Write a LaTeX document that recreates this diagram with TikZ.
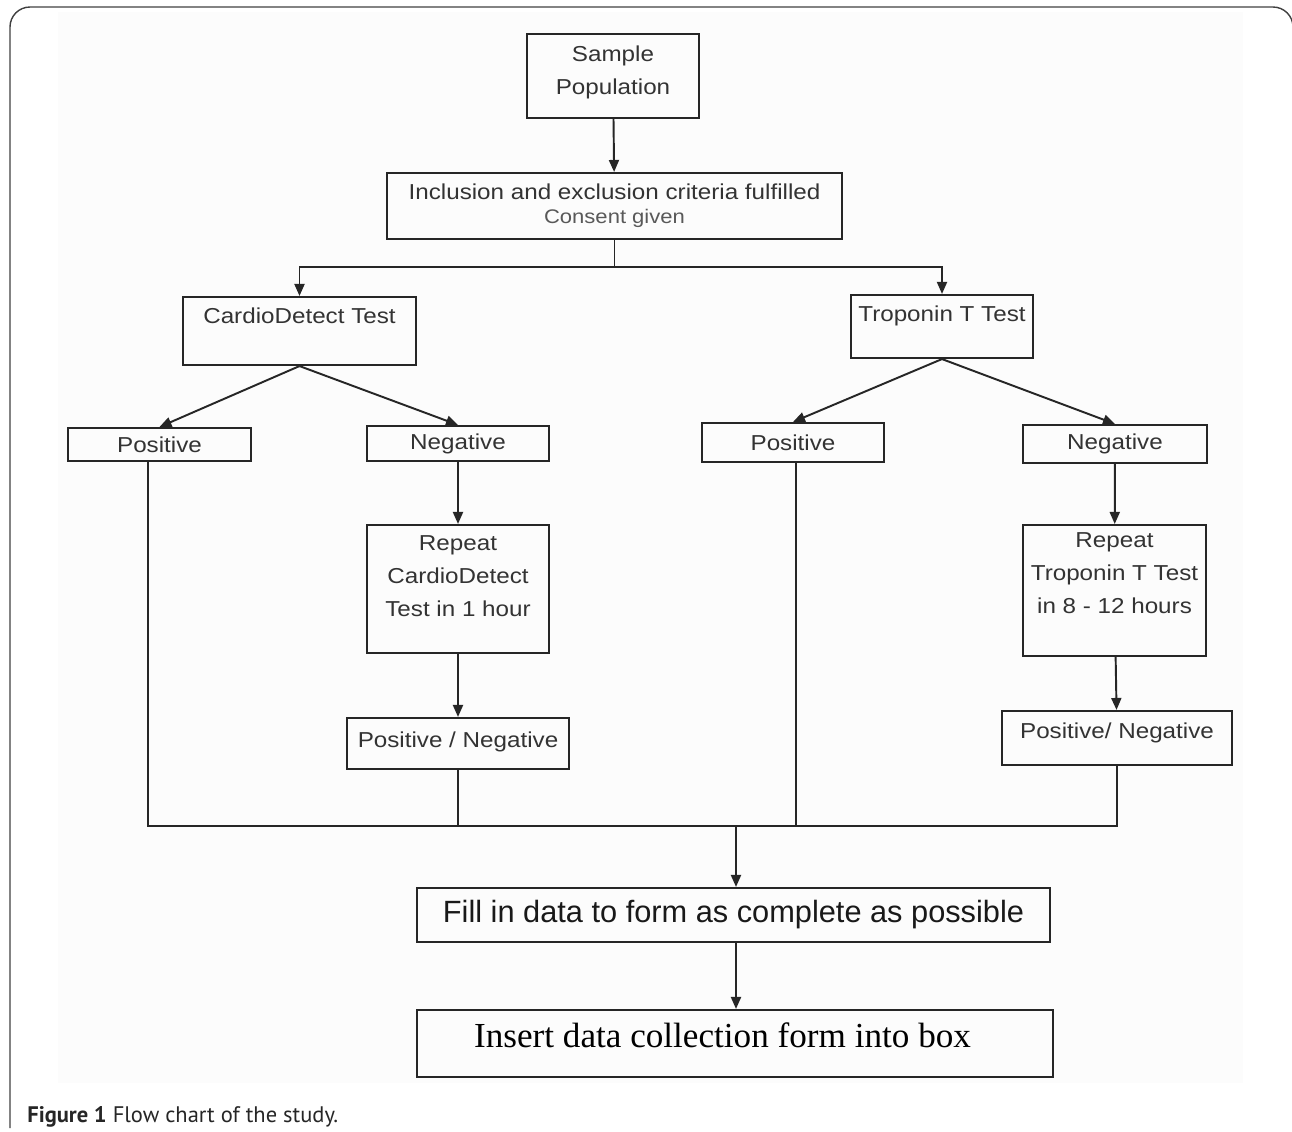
\documentclass[tikz,border=0pt]{standalone}
\usepackage{fontspec}
\setmainfont{Liberation Sans}
\newfontfamily\boxfont[FakeStretch=1.12]{Liberation Sans}
\newfontfamily\serifbox{Liberation Serif}
\newfontfamily\capfont{PT Sans}
\usetikzlibrary{arrows.meta}

\begin{document}
\begin{tikzpicture}[
  box/.style={draw=black!85,line width=1.2pt,inner sep=0pt,align=center,text=black!80,font=\boxfont\fontsize{12.3}{18.5}\selectfont},
  conn/.style={draw=black!85,line width=1.1pt},
  arr/.style={conn,-{Triangle[length=0.24cm,width=0.2cm]}}]
  \useasboundingbox (0,0) rectangle (25.84,-22.62);
  \fill[black!1] (1.16,-0.24) rectangle (24.86,-21.66);
  \draw[black!75,line width=0.8pt,rounded corners=0.4cm] (0.2,-22.56) -- (0.2,-0.14) -- (25.86,-0.14) -- (25.86,-1.2);
  \node[box,minimum width=3.44cm,text height=1.2cm,text depth=0.48cm] (sample) at (12.26,-1.52) {Sample\\Population};
  \node[box,minimum width=9.1cm,minimum height=1.32cm] (incl) at (12.29,-4.12) {Inclusion and exclusion criteria fulfilled\\[-4.8pt]{\color{black!65}\fontsize{11.2}{13}\selectfont Consent given}};
  \node[box,minimum width=4.66cm,text height=0.52cm,text depth=0.84cm] (cardio) at (5.99,-6.62) {CardioDetect Test};
  \node[box,minimum width=3.64cm,text height=0.52cm,text depth=0.74cm] (tropo) at (18.84,-6.53) {Troponin T Test};
  \node[box,minimum width=3.66cm,minimum height=0.66cm] (cpos) at (3.19,-8.89) {Positive};
  \node[box,minimum width=3.64cm,minimum height=0.7cm] (cneg) at (9.16,-8.87) {Negative};
  \node[box,minimum width=3.64cm,text height=1.82cm,text depth=0.74cm] (crep) at (9.16,-11.78) {Repeat\\CardioDetect\\Test in 1 hour};
  \node[box,minimum width=4.44cm,text height=0.58cm,text depth=0.44cm] (cpn) at (9.16,-14.87) {Positive / Negative};
  \node[box,minimum width=3.64cm,minimum height=0.78cm] (tpos) at (15.86,-8.85) {Positive};
  \node[box,minimum width=3.68cm,minimum height=0.76cm] (tneg) at (22.3,-8.88) {Negative};
  \node[box,minimum width=3.66cm,text height=1.76cm,text depth=0.86cm] (trep) at (22.29,-11.81) {Repeat\\Troponin T Test\\in 8 - 12 hours};
  \node[box,minimum width=4.6cm,text height=0.54cm,text depth=0.54cm] (tpn) at (22.34,-14.76) {Positive/ Negative};
  \node[box,minimum width=12.66cm,minimum height=1.08cm,text=black!90,font=\fontsize{17.5}{20}\selectfont] (fill) at (14.67,-18.3) {Fill in data to form as complete as possible};
  \node[box,minimum width=12.72cm,text height=0.74cm,text depth=0.6cm,text=black,font=\serifbox\fontsize{20}{22}\selectfont] (insert) at (14.7,-20.87) {Insert data collection form into box\hspace*{0.5cm}};
  \node[anchor=base west,inner sep=0pt,text=black!85,font=\capfont\fontsize{12.8}{14}\selectfont] (caption) at (0.54,-22.44) {\textbf{Figure 1} Flow chart of the study.};
  \coordinate (split) at (12.29,-5.34);
  \coordinate (merge) at (14.72,-16.52);
  \draw[arr] (sample) -- (incl);
  \draw[conn] (incl.south) -- (split);
  \draw[arr] (split) -| (cardio.north);
  \draw[arr] (split) -| (tropo.north);
  \draw[arr] (cardio.south) -- (cpos.north);
  \draw[arr] (cardio.south) -- (cneg.north);
  \draw[arr] (tropo.south) -- (tpos.north);
  \draw[arr] (tropo.south) -- (tneg.north);
  \draw[arr] (cneg) -- (crep);
  \draw[arr] (crep) -- (cpn);
  \draw[arr] (tneg) -- (trep);
  \draw[arr] (trep) -- (tpn);
  \draw[conn] ([xshift=-0.23cm]cpos.south) |- (merge) -| (tpn.south);
  \draw[conn] (cpn.south) -- (cpn.south |- merge);
  \draw[conn] ([xshift=0.06cm]tpos.south) -- ([xshift=0.06cm]tpos.south |- merge);
  \draw[arr] (merge) -- (merge |- fill.north);
  \draw[arr] (fill.south -| merge) -- (insert.north -| merge);
\end{tikzpicture}
\end{document}
